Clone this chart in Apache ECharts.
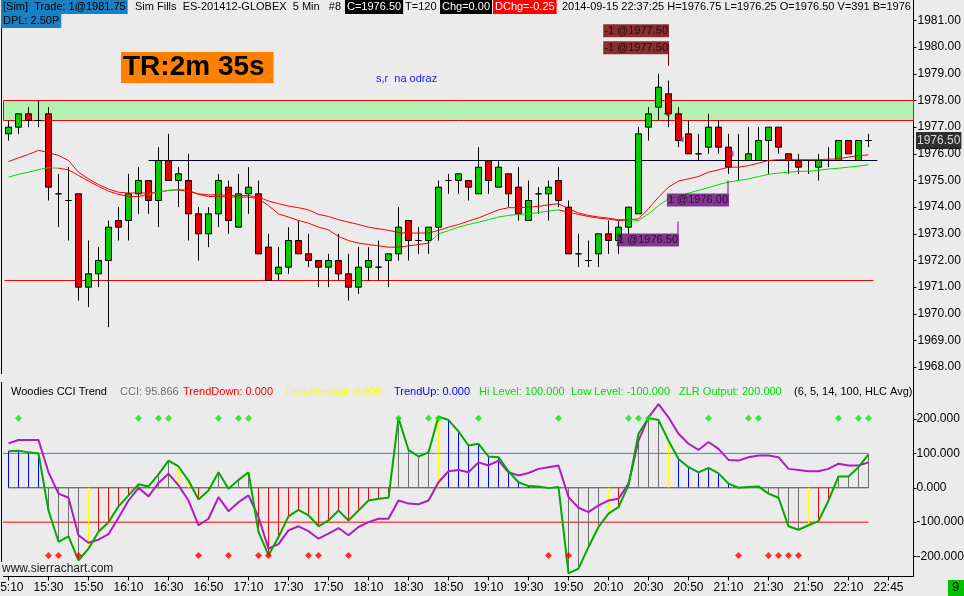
<!DOCTYPE html>
<html><head><meta charset="utf-8">
<script src="https://cdn.jsdelivr.net/npm/echarts@6/dist/echarts.min.js"></script>
<style>html,body{margin:0;padding:0;background:#ebebeb;}#c{width:964px;height:596px;}</style>
</head><body><div id="c"></div>
<script>
// ---------- price data (5 min bars, index 0 = 15:10) ----------
const opens  = [1976.75,1977.0,1977.5,1977.25,1977.5,1974.5,1974.25,1974.5,1971.0,1971.5,
1972.0,1973.5,1973.5,1974.5,1975.0,1974.25,1975.75,1975.0,1975.0,1973.75,
1973.0,1973.75,1974.75,1973.25,1974.5,1974.5,1972.5,1971.5,1971.75,1972.75,
1972.25,1972.0,1971.75,1972.0,1971.5,1971.0,1971.75,1971.75,1972.0,1972.25,
1973.5,1972.75,1972.75,1973.25,1975.0,1975.0,1975.0,1974.5,1975.75,1974.75,
1975.25,1974.75,1973.5,1974.5,1974.5,1975.0,1974.0,1972.25,1972.0,1972.25,
1973.0,1972.75,1973.25,1973.75,1977.0,1977.75,1978.25,1977.5,1976.75,1976.0,
1976.25,1977.0,1976.25,1975.75,1975.75,1975.75,1976.5,1977.0,1976.0,1975.75,
1975.75,1975.5,1975.75,1975.75,1976.5,1975.75,1976.5];
const closes = [1977.0,1977.5,1977.25,1977.25,1974.75,1974.5,1974.25,1971.0,1971.5,1972.0,
1973.25,1973.25,1974.5,1975.0,1974.25,1975.75,1975.0,1975.25,1973.75,1973.0,
1973.75,1975.0,1973.5,1974.5,1974.75,1972.25,1971.25,1971.75,1972.75,1972.25,
1972.0,1971.75,1972.0,1971.5,1971.0,1971.75,1972.0,1971.75,1972.25,1973.25,
1972.75,1972.75,1973.25,1974.75,1975.0,1975.25,1974.75,1975.5,1975.0,1975.5,
1974.5,1973.75,1974.25,1974.5,1974.75,1974.25,1972.25,1972.25,1972.0,1973.0,
1972.75,1973.25,1974.0,1976.75,1977.5,1978.5,1977.5,1976.5,1976.0,1976.0,
1977.0,1976.25,1975.5,1975.75,1976.0,1976.5,1977.0,1976.25,1975.75,1975.5,
1975.75,1975.75,1975.75,1976.5,1976.0,1976.5,1976.5];
const lows   = [1976.5,1976.75,1977.0,1977.0,1974.25,1973.25,1972.75,1970.5,1970.25,1971.0,
1969.5,1972.75,1972.75,1973.75,1973.75,1973.25,1975.0,1974.0,1972.75,1972.0,
1972.5,1973.25,1973.0,1973.25,1973.75,1972.25,1971.25,1971.25,1971.5,1972.25,
1971.75,1971.0,1971.0,1971.25,1970.5,1970.75,1971.25,1971.25,1971.0,1972.0,
1972.0,1972.25,1972.25,1972.75,1974.5,1974.5,1974.25,1974.5,1974.5,1974.75,
1974.0,1973.5,1973.5,1973.75,1973.5,1974.0,1972.25,1971.75,1971.75,1971.75,
1972.25,1972.25,1973.0,1973.75,1976.5,1977.25,1977.0,1976.25,1976.0,1975.75,
1976.0,1976.0,1975.25,1975.0,1975.75,1975.75,1975.25,1976.0,1975.25,1975.25,
1975.25,1975.0,1975.5,1975.75,1976.0,1975.75,1976.25];
const highs  = [1977.25,1977.5,1977.75,1978.0,1977.75,1975.25,1975.5,1974.5,1972.75,1972.5,
1973.5,1974.0,1975.25,1975.5,1975.0,1976.25,1976.75,1975.5,1976.0,1974.0,
1974.0,1975.25,1975.0,1975.25,1975.5,1975.0,1973.0,1972.5,1973.25,1973.5,
1973.0,1972.0,1972.25,1973.0,1972.25,1972.5,1972.5,1972.75,1972.25,1974.0,
1973.5,1973.25,1973.25,1975.0,1975.25,1975.25,1975.0,1976.25,1975.75,1975.75,
1975.25,1975.5,1975.0,1974.75,1975.0,1975.5,1974.25,1973.0,1972.75,1973.0,
1973.5,1973.5,1974.0,1977.0,1977.75,1979.0,1978.75,1977.75,1977.25,1976.75,
1977.5,1977.25,1976.75,1976.75,1977.0,1977.0,1977.0,1977.0,1976.0,1976.0,
1975.75,1976.0,1976.25,1976.5,1976.5,1976.5,1976.75];
// moving averages
const maUpper = [1975.71,1975.85,1975.98,1976.13,1976.05,1975.94,1975.75,1975.31,1975.06,1974.85,
1974.68,1974.56,1974.53,1974.53,1974.53,1974.56,1974.63,1974.65,1974.6,1974.5,
1974.46,1974.46,1974.44,1974.44,1974.43,1974.38,1974.23,1974.13,1974.04,1973.98,
1973.9,1973.73,1973.65,1973.53,1973.44,1973.35,1973.25,1973.19,1973.13,1973.05,
1973.03,1973.03,1973.03,1973.13,1973.25,1973.35,1973.48,1973.6,1973.75,1973.9,
1973.98,1973.98,1974.0,1974.03,1974.09,1974.13,1973.94,1973.78,1973.69,1973.63,
1973.59,1973.53,1973.53,1973.56,1973.94,1974.38,1974.75,1974.98,1975.06,1975.15,
1975.31,1975.4,1975.5,1975.5,1975.56,1975.65,1975.75,1975.78,1975.78,1975.78,
1975.78,1975.78,1975.8,1975.81,1975.88,1975.93,1975.96];
const maLower = [1975.13,1975.23,1975.31,1975.41,1975.48,1975.46,1975.4,1975.19,1974.98,1974.78,
1974.6,1974.48,1974.4,1974.4,1974.48,1974.56,1974.63,1974.65,1974.63,1974.48,
1974.4,1974.4,1974.38,1974.38,1974.38,1974.31,1974.06,1973.75,1973.63,1973.5,
1973.4,1973.25,1973.15,1972.9,1972.75,1972.65,1972.6,1972.55,1972.5,1972.5,
1972.55,1972.6,1972.65,1973.0,1973.12,1973.25,1973.35,1973.44,1973.53,1973.63,
1973.69,1973.73,1973.75,1973.8,1973.85,1973.9,1973.81,1973.73,1973.65,1973.59,
1973.55,1973.5,1973.53,1973.5,1973.75,1974.06,1974.31,1974.4,1974.53,1974.63,
1974.73,1974.85,1974.94,1975.0,1975.06,1975.15,1975.23,1975.28,1975.31,1975.34,
1975.35,1975.38,1975.43,1975.46,1975.5,1975.54,1975.59];
const maLowerGreenRanges = [[0,5],[14,17],[42,55],[62,86]];
// levels
const bandLow = 1977.25, bandHigh = 1978.0;
const levelLines = [
  {price:1975.75, from:14, to:86.9, color:'#000030'},
  {price:1971.25, from:-0.4, to:86.5, color:'#ff0000'}
];
const trades = [
  {text:'-1 @1977.50', bar:66.1, price:1980.62, kind:'sell'},
  {text:'-1 @1977.50', bar:66.1, price:1979.98, kind:'sell'},
  {text:'1 @1976.00', bar:72.1, price:1974.27, kind:'buy'},
  {text:'1 @1976.50', bar:67.1, price:1972.77, kind:'buy'}
];
const tradeLinks = [
  {bar:66.0, from:1980.12, to:1979.3, kind:'sell'},
  {bar:71.95, from:1974.51, to:1975.0, kind:'buy'},
  {bar:66.95, from:1973.01, to:1973.46, kind:'buy'}
];
const fillMarks = [
  {bar:65.8, price:1977.5, kind:'sell'},
  {bar:67.2, price:1976.55, kind:'buy'},
  {bar:72.2, price:1976.0, kind:'buy'}
];
const lastPrice = 1976.50;
// ---------- CCI panel ----------
const cci = [106,108,103,100,-66,-157,-141,-211,-177,-128,
-100,-54,-22,10,4,39,79,62,21,-34,
-8,45,-3,23,45,-128,-196,-143,-83,-64,
-80,-112,-95,-66,-95,-66,-37,-32,-29,203,
110,91,103,207,197,164,123,128,91,89,
48,16,5,4,-1,2,-249,-235,-172,-114,
-75,-56,7,157,203,197,137,84,60,45,
58,42,12,0,2,4,-17,-29,-112,-122,
-109,-97,-37,33,33,60,97];
const tcci = [129,139,139,139,45,-17,-29,-138,-160,-151,
-135,-87,-37,0,-25,14,41,7,-37,-109,
-90,-27,-68,-42,-22,-85,-177,-164,-124,-112,
-126,-148,-133,-117,-138,-114,-100,-90,-90,-37,
-46,-48,-37,16,48,52,45,74,65,79,
45,36,43,55,60,65,-27,-58,-71,-51,
-37,-32,12,137,205,243,205,157,128,110,
133,113,81,79,89,94,94,89,55,52,
48,48,55,70,65,65,74];
const histState = ('bbbbggggyrrrrggggyyrrggggrrrrrrrrrrrrrrggggybbbbbbbbbbbb' +
                   'ggggyrggggybbbbbbbbbggggyrrgggg').split('');
const zlrUpBars = [1,13,15,16,21,23,24,39,42,43,47,55,62,63,64,70,74,75,83,85,86];
const zlrDownBars = [4,5,7,19,22,25,26,30,31,34,54,56,73,76,77,78,79];
const zlrUpLevel = 202, zlrDownLevel = -197;
const cciLevels = [
  {v:100, from:-0.8, to:86, color:'#1e8cff'},
  {v:-100, from:-0.8, to:86, color:'#ff0000'},
  {v:0, from:0, to:86, color:'#404040'}
];
// ---------- axes ----------
const tickIndex = [0,4,8,12,16,20,24,28,32,36,40,44,48,52,56,60,64,68,72,76,80,84,88];
const tickLabels = ['15:10','15:30','15:50','16:10','16:30','16:50','17:10','17:30','17:50','18:10','18:30','18:50',
  '19:10','19:30','19:50','20:10','20:30','20:50','21:10','21:30','21:50','22:10','22:45'];
const priceTicks = [1968,1969,1970,1971,1972,1973,1974,1975,1976,1977,1978,1979,1980,1981];
const cciTicks = [-200,-100,0,100,200];
const slotCount = 91;

const FONT = '"Liberation Sans", Arial, sans-serif';
const categories = Array.from({length: slotCount}, (_, i) => String(i));
const candles = opens.map((o, i) => [o, closes[i], lows[i], highs[i]]);
const inRange = (i, strict) => maLowerGreenRanges.some(r => strict ? (i > r[0] && i < r[1]) : (i >= r[0] && i <= r[1]));
const maLowerGreen = maLower.map((v, i) => inRange(i, false) ? v : null);
const maLowerRed = maLower.map((v, i) => inRange(i, true) ? null : v);
const histColors = {b:'#0000ff', g:'#707070', r:'#ff0000', y:'#ffff00'};
const kindColor = {sell:'#720000', buy:'#6a0a78'};
const kindText = {sell:'#1a0000', buy:'#1a0020'};

const series = [];
series.push({
  type:'candlestick', xAxisIndex:0, yAxisIndex:0, data:candles, barWidth:6, z:3,
  itemStyle:{color:'#00cc00', color0:'#e60000', borderColor:'#000', borderColor0:'#000', borderColorDoji:'#000', borderWidth:1},
  markArea:{silent:true, z:1, itemStyle:{color:'#b3f0b3', borderColor:'#ff0000', borderWidth:1},
    data:[[{yAxis:bandLow},{yAxis:bandHigh}]]}
});
levelLines.forEach(l => series.push({type:'line', xAxisIndex:1, yAxisIndex:0, symbol:'none', z:2,
  data:[[l.from, l.price],[l.to, l.price]], lineStyle:{color:l.color, width:1}}));
series.push({type:'line', xAxisIndex:0, yAxisIndex:0, data:maUpper, symbol:'none', z:4, lineStyle:{color:'#ff0000', width:1}});
series.push({type:'line', xAxisIndex:0, yAxisIndex:0, data:maLowerRed, symbol:'none', z:4, connectNulls:false, lineStyle:{color:'#ff0000', width:1}});
series.push({type:'line', xAxisIndex:0, yAxisIndex:0, data:maLowerGreen, symbol:'none', z:4, connectNulls:false, lineStyle:{color:'#00dd00', width:1}});
tradeLinks.forEach(t => series.push({type:'line', xAxisIndex:1, yAxisIndex:0, symbol:'none', z:5,
  data:[[t.bar, t.from],[t.bar, t.to]], lineStyle:{color:kindColor[t.kind], width:1}}));
series.push({type:'scatter', xAxisIndex:1, yAxisIndex:0, z:6, symbolSize:1, clip:false,
  itemStyle:{color:'rgba(0,0,0,0)'},
  data:trades.map(t => ({value:[t.bar, t.price], name:t.text,
    label:{backgroundColor:kindColor[t.kind], color:kindText[t.kind]}})),
  label:{show:true, position:'left', distance:0, formatter:p => p.name, fontFamily:FONT, fontSize:11, lineHeight:12, padding:[1,1,0,1]}
});
series.push({type:'scatter', xAxisIndex:1, yAxisIndex:0, z:6, symbol:'triangle', symbolSize:6, symbolRotate:90,
  data:fillMarks.map(f => ({value:[f.bar, f.price], itemStyle:{color:f.kind==='sell' ? '#900000' : '#9020a8'}}))});
series.push({type:'scatter', xAxisIndex:1, yAxisIndex:0, z:7, symbolSize:1, clip:false,
  itemStyle:{color:'rgba(0,0,0,0)'}, data:[[slotCount - 0.5, lastPrice]],
  label:{show:true, position:'right', distance:2, formatter:p => p.value[1].toFixed(2), color:'#fff',
    backgroundColor:'#000', fontFamily:FONT, fontSize:12, lineHeight:14, padding:[2,1,1,1]}});
// CCI panel series
cciLevels.forEach(l => series.push({type:'line', xAxisIndex:3, yAxisIndex:1, symbol:'none', z:2,
  data:[[l.from, l.v],[l.to, l.v]], lineStyle:{color:l.color, width:1}}));
series.push({type:'bar', xAxisIndex:2, yAxisIndex:1, data:cci, barWidth:1, z:3,
  itemStyle:{color:p => histColors[histState[p.dataIndex]]}});
series.push({type:'line', xAxisIndex:2, yAxisIndex:1, data:tcci, symbol:'none', z:4, lineStyle:{color:'#b01cc0', width:2}});
series.push({type:'line', xAxisIndex:2, yAxisIndex:1, data:cci, symbol:'none', z:5, lineStyle:{color:'#00aa00', width:2}});
series.push({type:'scatter', xAxisIndex:2, yAxisIndex:1, z:6, symbol:'diamond', symbolSize:7,
  itemStyle:{color:'#00ee00'}, data:zlrUpBars.map(i => [i, zlrUpLevel])});
series.push({type:'scatter', xAxisIndex:2, yAxisIndex:1, z:6, symbol:'diamond', symbolSize:7,
  itemStyle:{color:'#ff0000'}, data:zlrDownBars.map(i => [i, zlrDownLevel])});

const showTick = i => tickIndex.indexOf(i) >= 0;
const txt = (x, y, text, fill, bg, extra) => ({type:'text', left:x, top:y, z:100,
  style:Object.assign({text, fill, font:'11px ' + FONT, backgroundColor:bg || 'transparent', padding:[1,2,1,2], lineHeight:12}, extra || {})});

const cciHeader = [
  [9,'Woodies CCI Trend','#000'],[118,'CCI: 95.866','#707070'],[181,'TrendDown: 0.000','#ff0000'],
  [282,'TrendNeutral: 0.000','#ffff00'],[392,'TrendUp: 0.000','#0000ff'],[477,'Hi Level: 100.000','#00e000'],
  [569,'Low Level: -100.000','#00e000'],[677,'ZLR Output: 200.000','#00e000'],[792,'(6, 5, 14, 100, HLC Avg)','#000']
];

const graphic = [
  txt(1, 0, '[Sim]  Trade: 1@1981.75', '#000', '#1a80c4'),
  txt(133, 0, 'Sim Fills  ES-201412-GLOBEX  5 Min   #8', '#000'),
  txt(345, 0, 'C=1976.50', '#fff', '#000'),
  txt(403, 0, 'T=120', '#000'),
  txt(440, 0, 'Chg=0.00', '#fff', '#000'),
  txt(493, 0, 'DChg=-0.25', '#fff', '#ff0000'),
  txt(560, 0, '2014-09-15 22:37:25 H=1976.75 L=1976.25 O=1976.50 V=391 B=1976', '#000', null,
      {width:350, overflow:'truncate', ellipsis:''}),
  txt(1, 14, 'DPL: 2.50P', '#000', '#1a80c4'),
  {type:'text', left:121, top:52, z:100, style:{text:'TR:2m 35s', fill:'#000', font:'bold 28px ' + FONT,
    backgroundColor:'#ff8000', padding:[0,9,0,2], lineHeight:31}},
  txt(374, 72, 's,r  na odraz', '#1a1aff'),
  txt(0, 562, 'www.sierrachart.com', '#202020', null, {font:'12px ' + FONT}),
  {type:'rect', left:948, top:580, z:100, shape:{width:16, height:16}, style:{fill:'#00c000'}},
  {type:'text', left:952, top:581, z:101, style:{text:'9', fill:'#000', font:'13px ' + FONT}},
  {type:'line', z:100, shape:{x1:1.5, y1:28, x2:1.5, y2:374}, style:{stroke:'#000', lineWidth:1}},
  {type:'line', z:100, shape:{x1:1.5, y1:382, x2:1.5, y2:562}, style:{stroke:'#000', lineWidth:1}}
].concat(cciHeader.map(h => txt(h[0], 385, h[1], h[2])));

const option = {
  backgroundColor:'#ebebeb', animation:false,
  grid:[
    {left:3.5, top:0.5, width:910, height:380, outerBoundsMode:'none', containLabel:false},
    {left:3.5, top:380.5, width:910, height:196, outerBoundsMode:'none', containLabel:false}
  ],
  xAxis:[
    {type:'category', gridIndex:0, data:categories, show:false},
    {type:'value', gridIndex:0, min:-0.5, max:slotCount - 0.5, show:false},
    {type:'category', gridIndex:1, data:categories,
      axisLine:{show:true, onZero:false, lineStyle:{color:'#000', width:1}},
      axisTick:{show:true, alignWithLabel:true, interval:showTick, length:4, lineStyle:{color:'#000'}},
      axisLabel:{show:true, interval:showTick, margin:5, color:'#000', fontFamily:FONT, fontSize:12,
        hideOverlap:false, formatter:(v, i) => tickLabels[tickIndex.indexOf(i)] || ''},
      splitLine:{show:false}},
    {type:'value', gridIndex:1, min:-0.5, max:slotCount - 0.5, show:false}
  ],
  yAxis:[
    {type:'value', gridIndex:0, position:'right', min:1967.5, max:1981.75,
      axisLine:{show:true, onZero:false, lineStyle:{color:'#000'}},
      axisTick:{show:true, length:3, customValues:priceTicks, lineStyle:{color:'#000'}},
      axisLabel:{show:true, customValues:priceTicks, margin:4, color:'#000', fontFamily:FONT, fontSize:12,
        formatter:v => v.toFixed(2)},
      splitLine:{show:false}},
    {type:'value', gridIndex:1, position:'right', min:-258, max:312,
      axisLine:{show:true, onZero:false, lineStyle:{color:'#000'}},
      axisTick:{show:true, length:3, customValues:cciTicks, lineStyle:{color:'#000'}},
      axisLabel:{show:true, customValues:cciTicks, margin:3, color:'#000', fontFamily:FONT, fontSize:12,
        formatter:v => v.toFixed(3)},
      splitLine:{show:false}}
  ],
  series:series,
  graphic:graphic
};
const chart = echarts.init(document.getElementById('c'), null, {renderer:'canvas'});
chart.setOption(option);
</script></body></html>
